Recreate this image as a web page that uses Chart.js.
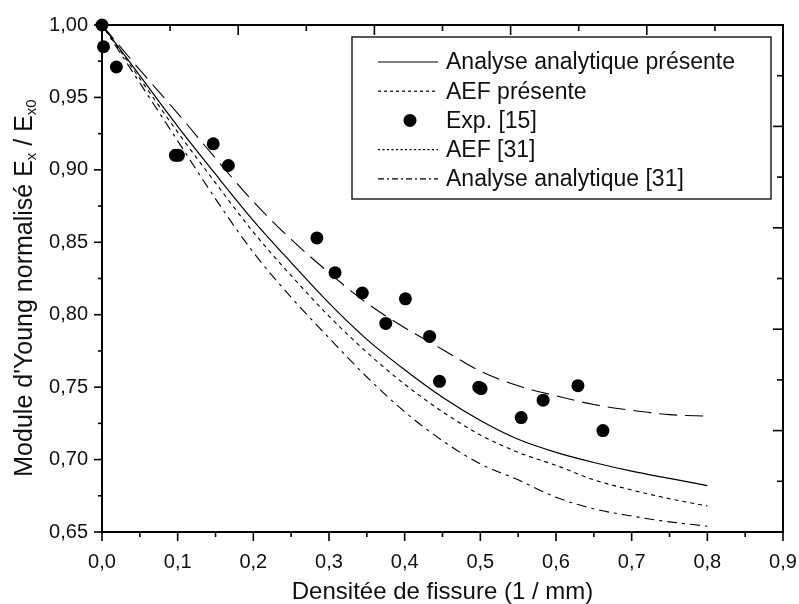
<!DOCTYPE html>
<html>
<head>
<meta charset="utf-8">
<script src="https://cdn.jsdelivr.net/npm/chart.js@4.4.1/dist/chart.umd.min.js"></script>
<style>
  html, body { margin: 0; padding: 0; background: #fff; }
  canvas { display: block; }
</style>
</head>
<body>
<canvas id="chart" width="799" height="604"></canvas>
<script>
// Tick labels (French decimal comma)
const xTickLabels = ['0,0', '0,1', '0,2', '0,3', '0,4', '0,5', '0,6', '0,7', '0,8', '0,9'];
const yTickLabels = ['0,65', '0,70', '0,75', '0,80', '0,85', '0,90', '0,95', '1,00'];

// Crack density samples for the model curves (1/mm)
const xCurve = [0, 0.05, 0.10, 0.15, 0.20, 0.25, 0.30, 0.35, 0.40, 0.45, 0.50, 0.55, 0.60, 0.65, 0.70, 0.75, 0.80];

// Normalised Young's modulus Ex/Ex0
const analysePresente = [1.000, 0.965, 0.930, 0.897, 0.865, 0.836, 0.808, 0.783, 0.762, 0.743, 0.727, 0.714, 0.705, 0.698, 0.692, 0.687, 0.682];
const aefPresente     = [1.000, 0.963, 0.926, 0.891, 0.857, 0.827, 0.799, 0.774, 0.752, 0.733, 0.717, 0.705, 0.696, 0.686, 0.679, 0.673, 0.668];
const aef31           = [1.000, 0.969, 0.939, 0.908, 0.878, 0.852, 0.829, 0.808, 0.791, 0.776, 0.761, 0.751, 0.744, 0.738, 0.734, 0.731, 0.730];
const analyse31       = [1.000, 0.960, 0.920, 0.880, 0.843, 0.812, 0.784, 0.757, 0.733, 0.713, 0.697, 0.686, 0.674, 0.666, 0.661, 0.657, 0.654];

// Experimental measurements, ref. [15]
const expX = [0.000, 0.002, 0.019, 0.097, 0.101, 0.147, 0.167, 0.284, 0.308, 0.344, 0.375, 0.401, 0.433, 0.446, 0.498, 0.501, 0.554, 0.583, 0.629, 0.662];
const expY = [1.000, 0.985, 0.971, 0.910, 0.910, 0.918, 0.903, 0.853, 0.829, 0.815, 0.794, 0.811, 0.785, 0.754, 0.750, 0.749, 0.729, 0.741, 0.751, 0.720];

const toXY = (xs, ys) => xs.map((v, i) => ({ x: v, y: ys[i] }));

const FONT = "'Liberation Sans', Arial, sans-serif";
const INK = '#111';

function curve(label, values, dash, legendDash, width) {
  return {
    label,
    data: toXY(xCurve, values),
    showLine: true,
    borderColor: '#000',
    borderWidth: width,
    borderDash: dash,
    pointRadius: 0,
    pointHoverRadius: 0,
    cubicInterpolationMode: 'monotone',
    fill: false,
    legendDash
  };
}

const datasets = [
  curve('Analyse analytique présente', analysePresente, [], [], 1.2),
  curve('AEF présente', aefPresente, [4, 4], [3, 3], 1.1),
  {
    label: 'Exp. [15]',
    data: toXY(expX, expY),
    showLine: false,
    pointRadius: 6.5,
    pointHoverRadius: 6.5,
    pointBackgroundColor: '#000',
    pointBorderColor: '#000',
    pointBorderWidth: 0,
    clip: false
  },
  curve('AEF [31]', aef31, [18, 8], [2, 2.5], 1.1),
  curve('Analyse analytique [31]', analyse31, [10, 5, 3, 5], [6, 3, 2, 3], 1.1)
];

// Box frame with outward ticks on the bottom/left axes and inward ticks on top/right
const frameTicks = {
  id: 'frameTicks',
  beforeDatasetsDraw(chart) {
    const { ctx, chartArea: { left, right, top, bottom }, scales: { x, y } } = chart;
    const seg = (x1, y1, x2, y2) => { ctx.beginPath(); ctx.moveTo(x1, y1); ctx.lineTo(x2, y2); ctx.stroke(); };
    ctx.save();
    ctx.strokeStyle = '#000';
    ctx.lineWidth = 1.6;
    x.ticks.forEach((t, i) => {
      const px = x.getPixelForValue(t.value);
      seg(px, bottom, px, bottom + 9);
      if (i < x.ticks.length - 1) {
        const m = (px + x.getPixelForValue(x.ticks[i + 1].value)) / 2;
        seg(m, bottom, m, bottom + 5);
      }
    });
    y.ticks.forEach((t, i) => {
      const py = y.getPixelForValue(t.value);
      seg(left, py, left - 8, py);
      if (i < y.ticks.length - 1) {
        const m = (py + y.getPixelForValue(y.ticks[i + 1].value)) / 2;
        seg(left, m, left - 4, m);
      }
    });
    for (let k = 1; k < 10; k++) {
      const f = k / 10;
      const len = k % 2 === 0 ? 10 : 6;
      const px = left + f * (right - left);
      seg(px, top, px, top + len);
      const py = bottom - f * (bottom - top);
      seg(right, py, right - len, py);
    }
    ctx.lineWidth = 2;
    ctx.strokeRect(left, top, right - left, bottom - top);
    ctx.restore();
  }
};

// Y axis title with subscripts, drawn rotated
const yTitle = {
  id: 'yTitle',
  afterDraw(chart) {
    const { ctx } = chart;
    const parts = [
      { t: "Module d'Young normalisé E", size: 25, base: 10 },
      { t: 'x', size: 15, base: 14 },
      { t: ' / E', size: 25, base: 10 },
      { t: 'x0', size: 15, base: 14 }
    ];
    ctx.save();
    ctx.fillStyle = INK;
    ctx.textBaseline = 'alphabetic';
    ctx.textAlign = 'left';
    let total = 0;
    parts.forEach(p => { ctx.font = p.size + 'px ' + FONT; p.w = ctx.measureText(p.t).width; total += p.w; });
    ctx.translate(22, 288);
    ctx.rotate(-Math.PI / 2);
    let u = -total / 2;
    parts.forEach(p => { ctx.font = p.size + 'px ' + FONT; ctx.fillText(p.t, u, p.base); u += p.w; });
    ctx.restore();
  }
};

// Framed legend inside the plot area
const boxLegend = {
  id: 'boxLegend',
  afterDatasetsDraw(chart) {
    const { ctx, chartArea: { left, top } } = chart;
    const bx = left + 250, by = top + 12, bw = 419, bh = 162;
    ctx.save();
    ctx.fillStyle = '#fff';
    ctx.fillRect(bx, by, bw, bh);
    ctx.strokeStyle = '#222';
    ctx.lineWidth = 1.5;
    ctx.strokeRect(bx, by, bw, bh);
    ctx.font = '23px ' + FONT;
    ctx.textBaseline = 'middle';
    ctx.textAlign = 'left';
    chart.data.datasets.forEach((ds, i) => {
      const cy = by + 25 + i * 29.2;
      const sx = bx + 26, ex = bx + 86;
      if (ds.showLine === false) {
        ctx.fillStyle = '#000';
        ctx.beginPath();
        ctx.arc((sx + ex) / 2 + 2, cy, 6.5, 0, Math.PI * 2);
        ctx.fill();
      } else {
        ctx.strokeStyle = '#000';
        ctx.lineWidth = 1.2;
        ctx.setLineDash(ds.legendDash || []);
        ctx.beginPath();
        ctx.moveTo(sx, cy);
        ctx.lineTo(ex, cy);
        ctx.stroke();
        ctx.setLineDash([]);
      }
      ctx.fillStyle = INK;
      ctx.fillText(ds.label, bx + 94, cy + 1);
    });
    ctx.restore();
  }
};

new Chart(document.getElementById('chart'), {
  type: 'scatter',
  data: { datasets },
  plugins: [frameTicks, boxLegend, yTitle],
  options: {
    responsive: false,
    animation: false,
    devicePixelRatio: 1,
    layout: { padding: { top: 25, right: 16, left: 0, bottom: 0 } },
    plugins: { legend: { display: false }, tooltip: { enabled: false } },
    scales: {
      x: {
        type: 'linear',
        min: 0, max: 0.9,
        afterFit: s => { s.height = 72; s.paddingLeft = 0; s.paddingRight = 0; },
        grid: { display: false, drawTicks: false },
        border: { display: false },
        ticks: {
          stepSize: 0.1,
          padding: 18,
          color: INK,
          font: { family: FONT, size: 20 },
          maxRotation: 0,
          autoSkip: false,
          callback: v => xTickLabels[Math.round(v / 0.1)]
        },
        title: {
          display: true,
          text: 'Densitée de fissure (1 / mm)',
          color: INK,
          font: { family: FONT, size: 24 },
          padding: { top: 0, bottom: -3 }
        }
      },
      y: {
        type: 'linear',
        min: 0.65, max: 1.0,
        afterFit: s => { s.width = 102; s.paddingTop = 0; s.paddingBottom = 0; },
        grid: { display: false, drawTicks: false },
        border: { display: false },
        ticks: {
          stepSize: 0.05,
          padding: 14,
          color: INK,
          font: { family: FONT, size: 20 },
          autoSkip: false,
          callback: v => yTickLabels[Math.round((v - 0.65) / 0.05)]
        }
      }
    }
  }
});
</script>
</body>
</html>
